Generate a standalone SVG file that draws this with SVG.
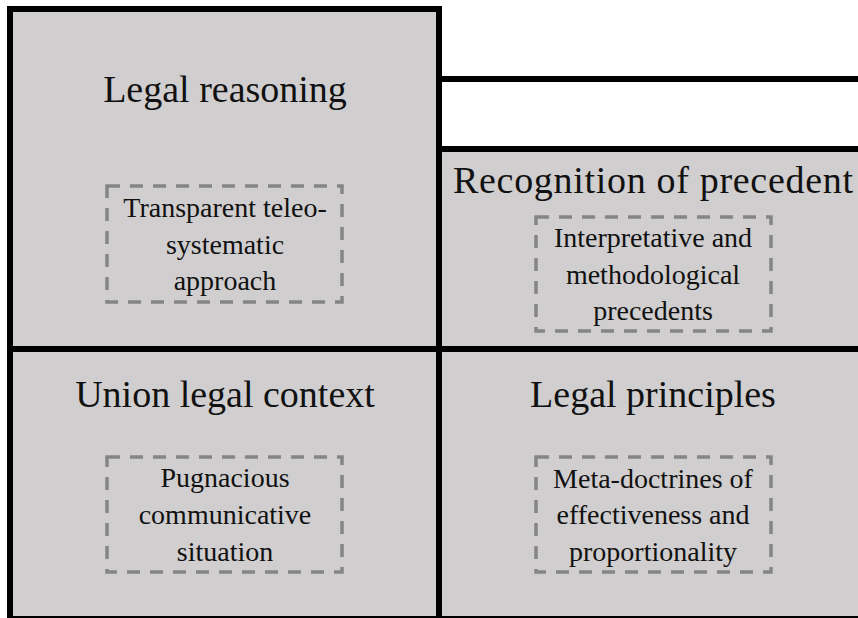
<svg xmlns="http://www.w3.org/2000/svg" width="858" height="618" viewBox="0 0 858 618">
  <style>
    .cell { fill: #d0cecf; stroke: #000; stroke-width: 6; }
    .rule { stroke: #000; stroke-width: 6; fill: none; }
    .dash { fill: none; stroke: #858585; stroke-width: 3.5; stroke-dasharray: 13 10; }
    .title { font-family: "Liberation Serif", "Times New Roman", serif; font-size: 38px; fill: #111; text-anchor: middle; }
    .sub { font-family: "Liberation Serif", "Times New Roman", serif; font-size: 28px; fill: #111; text-anchor: middle; }
  </style>
  <rect x="0" y="0" width="858" height="618" fill="#ffffff"/>

  <g id="recognition-of-precedent">
    <rect class="cell" x="439" y="149" width="440" height="200"/>
    <text class="title" x="653" y="193" textLength="400" lengthAdjust="spacing">Recognition of precedent</text>
    <rect class="dash" x="536" y="217" width="235" height="114"/>
    <text class="sub" x="653" y="247">Interpretative and</text>
    <text class="sub" x="653" y="284">methodological</text>
    <text class="sub" x="653" y="320">precedents</text>
  </g>

  <g id="legal-principles">
    <rect class="cell" x="439" y="349" width="440" height="270"/>
    <text class="title" x="653" y="407">Legal principles</text>
    <rect class="dash" x="536" y="457" width="235" height="115"/>
    <text class="sub" x="653" y="488">Meta-doctrines of</text>
    <text class="sub" x="653" y="524">effectiveness and</text>
    <text class="sub" x="653" y="561">proportionality</text>
  </g>

  <g id="legal-reasoning">
    <rect class="cell" x="10" y="9" width="429" height="340"/>
    <text class="title" x="225" y="102">Legal reasoning</text>
    <rect class="dash" x="107" y="186" width="235" height="116"/>
    <text class="sub" x="225" y="217">Transparent teleo-</text>
    <text class="sub" x="225" y="254">systematic</text>
    <text class="sub" x="225" y="290">approach</text>
  </g>

  <g id="union-legal-context">
    <rect class="cell" x="10" y="349" width="429" height="270"/>
    <text class="title" x="225" y="407">Union legal context</text>
    <rect class="dash" x="107" y="457" width="235" height="115"/>
    <text class="sub" x="225" y="487">Pugnacious</text>
    <text class="sub" x="225" y="524">communicative</text>
    <text class="sub" x="225" y="561">situation</text>
  </g>

  <g id="connectors">
    <line class="rule" x1="439" y1="79" x2="858" y2="79"/>
  </g>
</svg>
